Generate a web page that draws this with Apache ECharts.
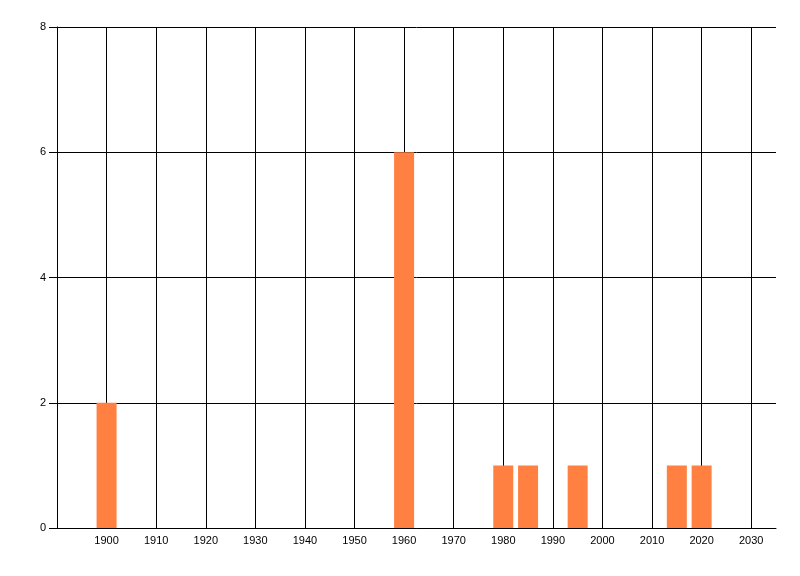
<!DOCTYPE html>
<html>
<head>
<meta charset="utf-8">
<script src="https://cdn.jsdelivr.net/npm/echarts@6/dist/echarts.min.js"></script>
<style>html,body{margin:0;padding:0;background:#fff}#c{width:800px;height:576px}</style>
</head>
<body>
<div id="c"></div>
<script>
var years = [1900, 1960, 1980, 1985, 1995, 2015, 2020];
var counts = [2, 6, 1, 1, 1, 1, 1];
var xTickLabels = [1900, 1910, 1920, 1930, 1940, 1950, 1960, 1970, 1980, 1990, 2000, 2010, 2020, 2030];
var yTickLabels = [0, 2, 4, 6, 8];

var chart = echarts.init(document.getElementById('c'), null, {renderer: 'canvas'});
var font = 'Liberation Sans, Arial, sans-serif';
chart.setOption({
  animation: false,
  backgroundColor: '#ffffff',
  grid: {left: 57, top: 27, right: 24, bottom: 48, containLabel: false},
  xAxis: {
    type: 'value', min: 1890, max: 2035, interval: 10,
    axisLine: {show: true, lineStyle: {color: '#000', width: 1}},
    axisTick: {show: false},
    axisLabel: {
      color: '#000', fontFamily: font, fontSize: 11, margin: 7,
      showMinLabel: false, showMaxLabel: false,
      formatter: function (v) { return xTickLabels.indexOf(v) >= 0 ? String(v) : ''; }
    },
    splitLine: {show: true, showMinLine: false, showMaxLine: false, lineStyle: {color: '#000', width: 1}}
  },
  yAxis: {
    type: 'value', min: 0, max: 8, interval: 2,
    axisLine: {show: true, lineStyle: {color: '#000', width: 1}},
    axisTick: {show: true, length: 8, inside: false, lineStyle: {color: '#000'}},
    axisLabel: {
      color: '#000', fontFamily: font, fontSize: 11, margin: 11,
      formatter: function (v) { return yTickLabels.indexOf(v) >= 0 ? String(v) : ''; }
    },
    splitLine: {show: true, lineStyle: {color: '#000', width: 1}}
  },
  series: [{
    type: 'bar',
    barWidth: 20,
    itemStyle: {color: '#ff8040'},
    data: years.map(function (y, i) { return [y, counts[i]]; })
  }]
});
</script>
</body>
</html>
